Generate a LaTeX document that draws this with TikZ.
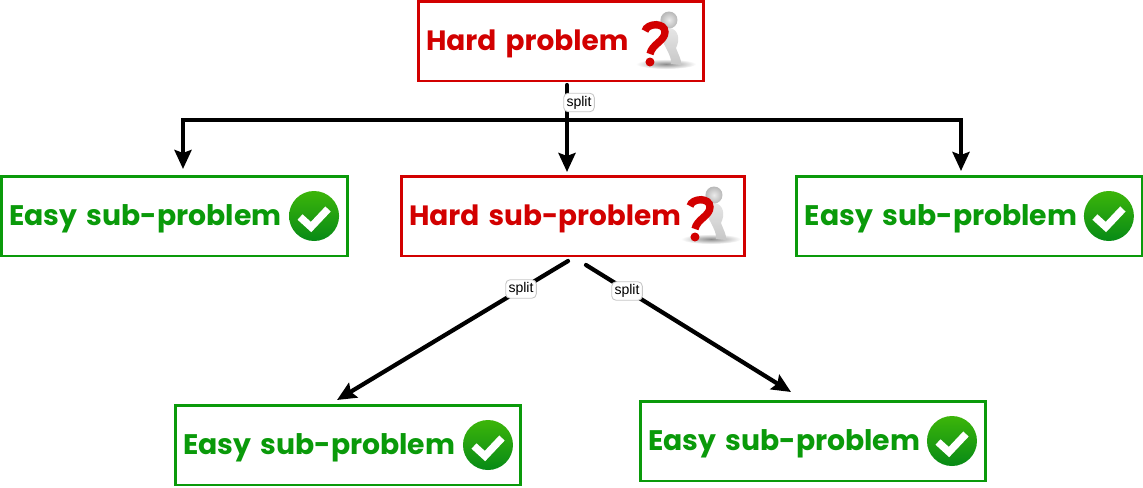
\documentclass[tikz,border=0pt]{standalone}
\usepackage{fontspec}
\setmainfont{Poppins}
\newfontfamily\splitfont{Liberation Sans}
\usetikzlibrary{arrows.meta}
\usetikzlibrary{positioning, shadings}

\definecolor{hardred}{HTML}{D20000}
\definecolor{easygreen}{HTML}{0A9A0A}
\definecolor{ticktop}{HTML}{3CB50A}
\definecolor{tickbottom}{HTML}{078A16}

\tikzset{
  probbox/.style={rectangle, draw, line width=1.7pt, fill=white, minimum height=1.6cm, inner ysep=0pt, inner xsep=0.16cm, outer sep=0pt, align=left, text height=0.5cm, text depth=0.12cm, font=\fontsize{16.1}{20}\selectfont\bfseries},
  hardbox/.style={probbox, draw=hardred, text=hardred, font=\fontsize{15.9}{20}\selectfont\bfseries},
  easybox/.style={probbox, draw=easygreen, text=easygreen, text width=6.6cm},
  splitlabel/.style={rectangle, rounded corners=2.5pt, draw=black!22, fill=white, line width=0.5pt, inner xsep=1.6pt, inner ysep=0pt, minimum height=0.37cm, font=\splitfont\fontsize{8}{9}\selectfont},
  link/.style={line width=2.4pt, black, line cap=round},
  linkarrow/.style={link, -{Stealth[length=3.8mm, width=3.4mm, inset=0.6mm]}},
  pics/tick/.style={code={
    \shade[top color=ticktop, bottom color=tickbottom] (0,0) circle (25);
    \draw[white, line width=4.2pt] (-14,1) -- (-3,11) -- (14,-7);
  }},
  pics/thinker/.style={code={
    \shade[inner color=black!45, outer color=white] (11,20) ellipse (30 and 5);
    \shade[top color=black!10, bottom color=black!22] (15,-16) .. controls (24,-14) and (25,-4) .. (21,4) .. controls (23,10) and (27,16) .. (26,21) -- (16,20) .. controls (17,14) and (12,6) .. (9,0) .. controls (7,-6) and (9,-14) .. (15,-16);
    \shade[inner color=black!8, outer color=black!28] (14,-24) circle (8.5);
    \draw[black!50, line width=1.6pt] (1,-22) -- (7,-19);
    \draw[hardred, line width=4.2pt] (-10,-13) .. controls (-8,-21) and (10,-22) .. (10,-12) .. controls (10,-3) and (-3,0) .. (-5,10);
    \fill[hardred] (-5,18) circle (4.5);
  }},
}

\begin{document}
\begin{tikzpicture}[x=0.02cm, y=-0.02cm]
  \useasboundingbox (0,0) rectangle (1143,487);

  % Hard problem
  \node[hardbox, minimum width=5.72cm, text width=5.4cm] (hard) at (561,41) {Hard problem};
  \pic at ([xshift=-0.98cm, yshift=-0.06cm]hard.east) {thinker};

  % Second row
  \node[hardbox, minimum width=6.88cm, text width=6.56cm] (hardsub) at (573,216) {Hard sub-problem};
  \pic at ([xshift=-0.9cm, yshift=-0.06cm]hardsub.east) {thinker};
  \node[easybox, left=1.08cm of hardsub] (easyl) {Easy sub-problem};
  \pic at ([xshift=-0.66cm]easyl.east) {tick};
  \node[easybox, right=1.04cm of hardsub] (easyr) {Easy sub-problem};
  \pic at ([xshift=-0.68cm]easyr.east) {tick};

  % Bottom row
  \node[easybox] (easybl) at (348,445) {Easy sub-problem};
  \pic at ([xshift=-0.66cm]easybl.east) {tick};
  \node[easybox] (easybr) at (813,441) {Easy sub-problem};
  \pic at ([xshift=-0.68cm]easybr.east) {tick};

  % Connectors
  \coordinate (trunk) at (567,85);
  \coordinate (fork) at (567,120);
  \coordinate (forkl) at (183,120);
  \coordinate (forkr) at (961,120);
  \coordinate (midin) at (567,172);
  \coordinate (leftin) at (183,169);
  \coordinate (rightin) at (961,171);
  \coordinate (subl) at (568,261);
  \coordinate (subr) at (586,265);
  \coordinate (blin) at (337,400);
  \coordinate (brin) at (791,392);

  \draw[linkarrow] (trunk) -- (midin);
  \draw[linkarrow] (fork) -- (forkl) -- (leftin);
  \draw[linkarrow] (fork) -- (forkr) -- (rightin);
  \draw[linkarrow] (subl) -- (blin);
  \draw[linkarrow] (subr) -- (brin);

  % Split labels
  \node[splitlabel] (splittop) at (579,102.5) {split};
  \node[splitlabel] (splitl) at (521,289) {split};
  \node[splitlabel] (splitr) at (627,291) {split};
\end{tikzpicture}
\end{document}
